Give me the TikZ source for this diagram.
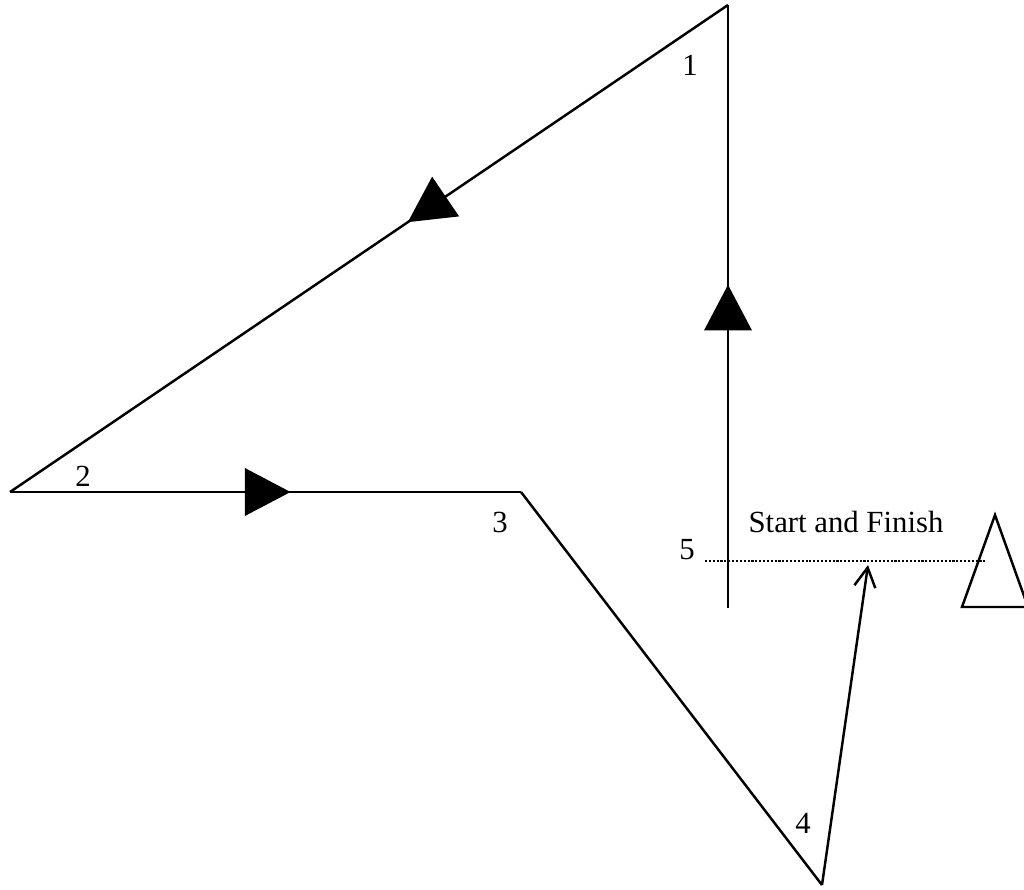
\documentclass[tikz,border=0pt]{standalone}
\usepackage{fontspec}
\setmainfont{Liberation Serif}
\usetikzlibrary{arrows.meta,decorations.markings}
\begin{document}
\begin{tikzpicture}[x=0.02cm,y=-0.02cm,
  route/.style={line width=1.4pt},
  lbl/.style={font=\fontsize{17.5}{20}\selectfont, inner sep=0pt},
  midarrow/.style={postaction={decorate,decoration={markings,
     mark=at position #1 with {\arrow{Triangle[length=26pt,width=27pt]}}}}}]
\useasboundingbox (0,0) rectangle (1024,889);
\clip (0,0) rectangle (1024,889);
% route points
\coordinate (s) at (728,608);
\coordinate (p1) at (728,5);
\coordinate (p2) at (10,492);
\coordinate (p3) at (521,492);
\coordinate (p4) at (822,885);
\coordinate (fin) at (868,565);
\coordinate (dl) at (705,561);
\coordinate (dr) at (987,561);
% triangle marker
\coordinate (ta) at (995,515);
\coordinate (tl) at (962,607);
\coordinate (tr) at (1028,607);
% legs
\draw[route, midarrow=0.536] (s) -- (p1);
\draw[route, midarrow=0.446] (p1) -- (p2);
\draw[route, midarrow=0.549] (p2) -- (p3);
\draw[route] (p3) -- (p4);
\draw[route, -{Straight Barb[length=11pt,width=12pt]}] (p4) -- (fin);
% start/finish line
\draw[line width=1.2pt, densely dotted] (dl) -- (dr);
\draw[line width=1.4pt] (ta) -- (tl) -- (tr) -- cycle;
% labels
\node[lbl] (l1) at (690,65) {1};
\node[lbl] (l2) at (83,476) {2};
\node[lbl] (l3) at (500,522) {3};
\node[lbl] (l4) at (803,823) {4};
\node[lbl] (l5) at (687,550) {5};
\node[lbl, anchor=base] (sf) at (846,532) {Start and Finish};
\end{tikzpicture}
\end{document}
